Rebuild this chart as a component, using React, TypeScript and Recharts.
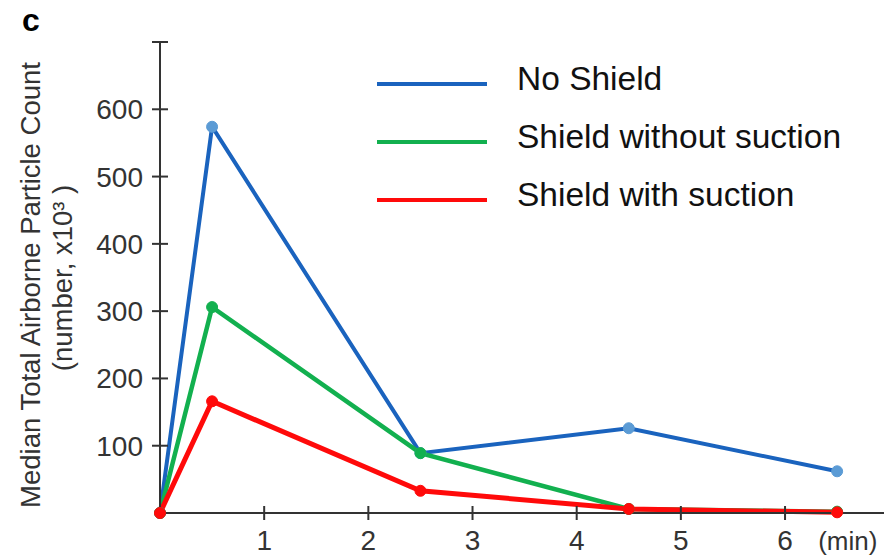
import { LineChart, Line, XAxis, YAxis, Label } from 'recharts';

// time after start (min)
const times = [0, 0.5, 2.5, 4.5, 6.5];
// median particle count, x10^3
const noShield = [0, 574, 89, 126, 62];
const shieldNoSuction = [0, 306, 89, 6, 2];
const shieldSuction = [0, 166, 33, 6, 1];

const xTicks = [1, 2, 3, 4, 5, 6];
const yTicks = [100, 200, 300, 400, 500, 600, 700];

const FONT = '"Liberation Sans", Arial, sans-serif';
const AXIS = '#333';

const SERIES = [
  { key: 'noShield', name: 'No Shield', color: '#1a63be', dot: '#5b9bd5', width: 4 },
  { key: 'shieldNoSuction', name: 'Shield without suction', color: '#12b04f', dot: '#12b04f', width: 4.5 },
  { key: 'shieldSuction', name: 'Shield with suction', color: '#ff0a0a', dot: '#ff0a0a', width: 5 },
];

const data = times.map((t, i) => ({
  t,
  noShield: noShield[i],
  shieldNoSuction: shieldNoSuction[i],
  shieldSuction: shieldSuction[i],
}));

function XTick({ x, y, payload }: any) {
  return (
    <g>
      <line x1={x} x2={x} y1={y - 7} y2={y + 7} stroke={AXIS} strokeWidth={2} />
      <text x={x} y={y + 37} textAnchor="middle" fontSize={28} fill={AXIS} fontFamily={FONT}>
        {payload.value}
      </text>
    </g>
  );
}

function YTick({ x, y, payload }: any) {
  return (
    <g>
      <line x1={x - 8} x2={x + 8} y1={y} y2={y} stroke={AXIS} strokeWidth={2} />
      {payload.value < 700 && (
        <text x={x - 17} y={y + 10} textAnchor="end" fontSize={28} fill={AXIS} fontFamily={FONT}>
          {payload.value}
        </text>
      )}
    </g>
  );
}

function YLabel() {
  return (
    <g fontFamily={FONT} fill={AXIS} fontSize={27.5}>
      <text transform="translate(40, 285) rotate(-90)" textAnchor="middle">
        Median Total Airborne Particle Count
      </text>
      <text transform="translate(72, 278) rotate(-90)" textAnchor="middle">
        (number, x10³ )
      </text>
    </g>
  );
}

function MinLabel({ viewBox }: any) {
  return (
    <text x={viewBox.x + viewBox.width * 0.95} y={viewBox.y + 37} textAnchor="middle"
      fontSize={26} fill={AXIS} fontFamily={FONT}>
      (min)
    </text>
  );
}

function LegendBox() {
  return (
    <div style={{ position: 'absolute', left: 377, top: 50, fontFamily: FONT }}>
      {SERIES.map(s => (
        <div key={s.key} style={{ display: 'flex', alignItems: 'center', height: 58 }}>
          <span style={{ display: 'inline-block', width: 110, height: 4, background: s.color, marginTop: 10 }} />
          <span style={{ marginLeft: 30, fontSize: 33.5, color: '#111', whiteSpace: 'nowrap' }}>{s.name}</span>
        </div>
      ))}
    </div>
  );
}

export default function App() {
  return (
    <div style={{ position: 'absolute', left: 0, top: 0, width: 884, height: 556, background: '#fff' }}>
      <div style={{ position: 'absolute', left: 22, top: 2, fontFamily: FONT, fontWeight: 'bold', fontSize: 32 }}>c</div>
      <LineChart width={884} height={556} data={data} margin={{ top: 42, right: 0, bottom: 0, left: 0 }}>
        <XAxis
          dataKey="t"
          type="number"
          domain={[0, 6.95]}
          ticks={xTicks}
          height={43}
          tickSize={0}
          tickMargin={0}
          tickLine={false}
          tick={<XTick />}
          axisLine={{ stroke: AXIS, strokeWidth: 2 }}
          interval={0}
        >
          <Label content={<MinLabel />} />
        </XAxis>
        <YAxis
          type="number"
          domain={[0, 700]}
          ticks={yTicks}
          width={160}
          tickSize={0}
          tickMargin={0}
          tickLine={false}
          tick={<YTick />}
          axisLine={{ stroke: AXIS, strokeWidth: 2 }}
          interval={0}
        >
          <Label content={<YLabel />} />
        </YAxis>
        {SERIES.map(s => (
          <Line
            key={s.key}
            dataKey={s.key}
            name={s.name}
            stroke={s.color}
            strokeWidth={s.width}
            dot={{ r: 5.5, fill: s.dot, stroke: s.dot, strokeWidth: 1 }}
            isAnimationActive={false}
          />
        ))}
      </LineChart>
      <LegendBox />
    </div>
  );
}
